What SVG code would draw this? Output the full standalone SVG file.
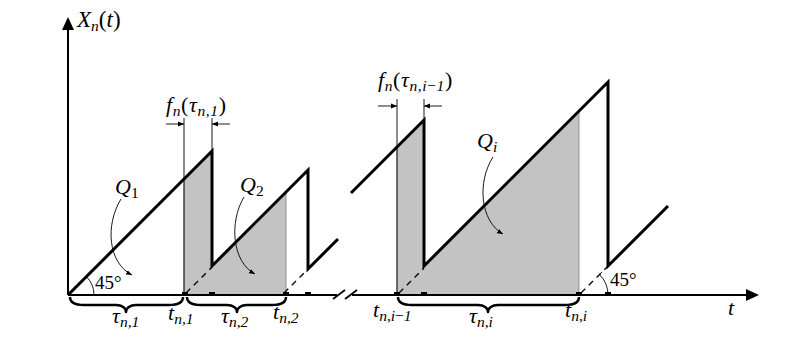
<svg xmlns="http://www.w3.org/2000/svg" width="792" height="337" viewBox="0 0 792 337">
<defs>
<style>
text{font-family:'Liberation Serif','Times New Roman',serif;font-style:italic;font-size:22px;fill:#000}
.u{font-style:normal}
.s{font-size:15.5px}
.thick{fill:none;stroke:#000;stroke-width:3;stroke-linejoin:miter;stroke-linecap:butt}
.axis{fill:none;stroke:#000;stroke-width:2}
.thin{fill:none;stroke:#000;stroke-width:0.9}
.dash{fill:none;stroke:#000;stroke-width:1.3;stroke-dasharray:6 5}
.gray{fill:#c3c3c3;stroke:#8a8a8a;stroke-width:0.9}
.brace{fill:none;stroke:#000;stroke-width:2.5;stroke-linejoin:round}
.tick{fill:#000}
</style>
<marker id="ah" viewBox="0 0 10 10" refX="10" refY="5" markerWidth="6" markerHeight="6" orient="auto" markerUnits="userSpaceOnUse">
<path d="M0,1 L10,5 L0,9 Z" fill="#000"/>
</marker>
</defs>
<rect width="792" height="337" fill="#fff"/>

<g id="shaded">
<polygon class="gray" points="184,295 184,179 212,151 212,266 286,192 286,295"/>
<polygon class="gray" points="397,295 397,147 424,120 424,266 579,111 579,295"/>
</g>

<g id="axes">
<line class="axis" x1="68" y1="295" x2="68" y2="28"/>
<polygon points="68,17 62,30 74,30" fill="#000"/>
<line class="axis" x1="68" y1="295" x2="337" y2="295"/>
<line class="axis" x1="352" y1="295" x2="748" y2="295"/>
<polygon points="759,295 746,289 746,301" fill="#000"/>
<line x1="333" y1="299" x2="345" y2="290" stroke="#000" stroke-width="1.8"/>
<line x1="345" y1="299" x2="357" y2="290" stroke="#000" stroke-width="1.8"/>
<text x="77" y="27" style="font-size:23px">X<tspan class="s" dy="4">n</tspan><tspan class="u" dy="-4">(</tspan>t<tspan class="u">)</tspan></text>
<text x="728" y="315">t</text>
</g>

<g id="connectors">
<polyline class="thick" points="68,295 212,151 212,266 308,170 308,269 338,239"/>
<polyline class="thick" points="351,193 424,120 424,266 608,82 608,266 668,206"/>
<line class="dash" x1="186" y1="293" x2="212" y2="267"/>
<line class="dash" x1="284" y1="293" x2="308" y2="269"/>
<line class="dash" x1="399" y1="293" x2="424" y2="268"/>
<line class="dash" x1="581" y1="293" x2="608" y2="266"/>
<line class="thin" x1="184" y1="118" x2="184" y2="295"/>
<line class="thin" x1="212" y1="118" x2="212" y2="151"/>
<line class="thin" x1="397" y1="99" x2="397" y2="295"/>
<line class="thin" x1="424" y1="99" x2="424" y2="120"/>
<line class="thin" x1="166" y1="124" x2="184" y2="124" marker-end="url(#ah)"/>
<line class="thin" x1="230" y1="124" x2="212" y2="124" marker-end="url(#ah)"/>
<line class="thin" x1="378" y1="106" x2="397" y2="106" marker-end="url(#ah)"/>
<line class="thin" x1="442" y1="106" x2="424" y2="106" marker-end="url(#ah)"/>
<path class="thin" d="M121,199 C105,225 108,263 132,275" marker-end="url(#ah)"/>
<path class="thin" d="M244,197 C229,222 232,262 255,274" marker-end="url(#ah)"/>
<path class="thin" d="M493,157 C477,182 480,221 503,234" marker-end="url(#ah)"/>
<path class="thin" d="M86.4,276.6 A26,26 0 0 1 94,295"/>
<path class="thin" d="M599.5,274.5 A29,29 0 0 1 608,295"/>
<line class="thin" x1="597" y1="277" x2="602" y2="272"/>
</g>

<g id="ticks">
<rect class="tick" x="182" y="292" width="6" height="3"/>
<rect class="tick" x="209" y="292" width="6" height="3"/>
<rect class="tick" x="283" y="292" width="6" height="3"/>
<rect class="tick" x="305" y="292" width="6" height="3"/>
<rect class="tick" x="394" y="292" width="6" height="3"/>
<rect class="tick" x="421" y="292" width="6" height="3"/>
<rect class="tick" x="576" y="292" width="6" height="3"/>
<rect class="tick" x="605" y="292" width="6" height="3"/>
</g>

<g id="braces">
<path class="brace" d="M70,297 C70,303 76,305 84,305 L116,305 C122,305 126,308 126,312 C126,308 130,305 136,305 L169,305 C177,305 183,303 183,297"/>
<path class="brace" d="M187,297 C187,303 193,305 201,305 L227,305 C233,305 237,308 237,312 C237,308 241,305 247,305 L272,305 C280,305 286,303 286,297"/>
<path class="brace" d="M398,297 C398,303 404,305 412,305 L478,305 C484,305 488,308 488,312 C488,308 492,305 498,305 L565,305 C573,305 579,303 579,297"/>
</g>

<g id="labels">
<text x="166" y="112" letter-spacing="0.6">f<tspan class="s" dy="4">n</tspan><tspan class="u" dy="-4">(</tspan>τ<tspan class="s" dy="4">n,1</tspan><tspan class="u" dy="-4">)</tspan></text>
<text x="378" y="87" letter-spacing="0.6">f<tspan class="s" dy="4">n</tspan><tspan class="u" dy="-4">(</tspan>τ<tspan class="s" dy="4">n,i<tspan class="u">−</tspan>1</tspan><tspan class="u" dy="-4">)</tspan></text>
<text x="115" y="194">Q<tspan class="s u" dy="4">1</tspan></text>
<text x="240" y="192">Q<tspan class="s u" dy="4">2</tspan></text>
<text x="477" y="148">Q<tspan class="s" dy="4">i</tspan></text>
<text class="u" x="95" y="289" style="font-size:19px">45°</text>
<text class="u" x="610" y="286" style="font-size:19px">45°</text>
<text x="112" y="323">τ<tspan class="s" dy="4">n,1</tspan></text>
<text x="168" y="320">t<tspan class="s" dy="4">n,1</tspan></text>
<text x="221" y="323">τ<tspan class="s" dy="4">n,2</tspan></text>
<text x="273" y="319">t<tspan class="s" dy="4">n,2</tspan></text>
<text x="373" y="317">t<tspan class="s" dy="4">n,i<tspan class="u">−</tspan>1</tspan></text>
<text x="469" y="323">τ<tspan class="s" dy="4">n,i</tspan></text>
<text x="565" y="317">t<tspan class="s" dy="4">n,i</tspan></text>
</g>
</svg>
